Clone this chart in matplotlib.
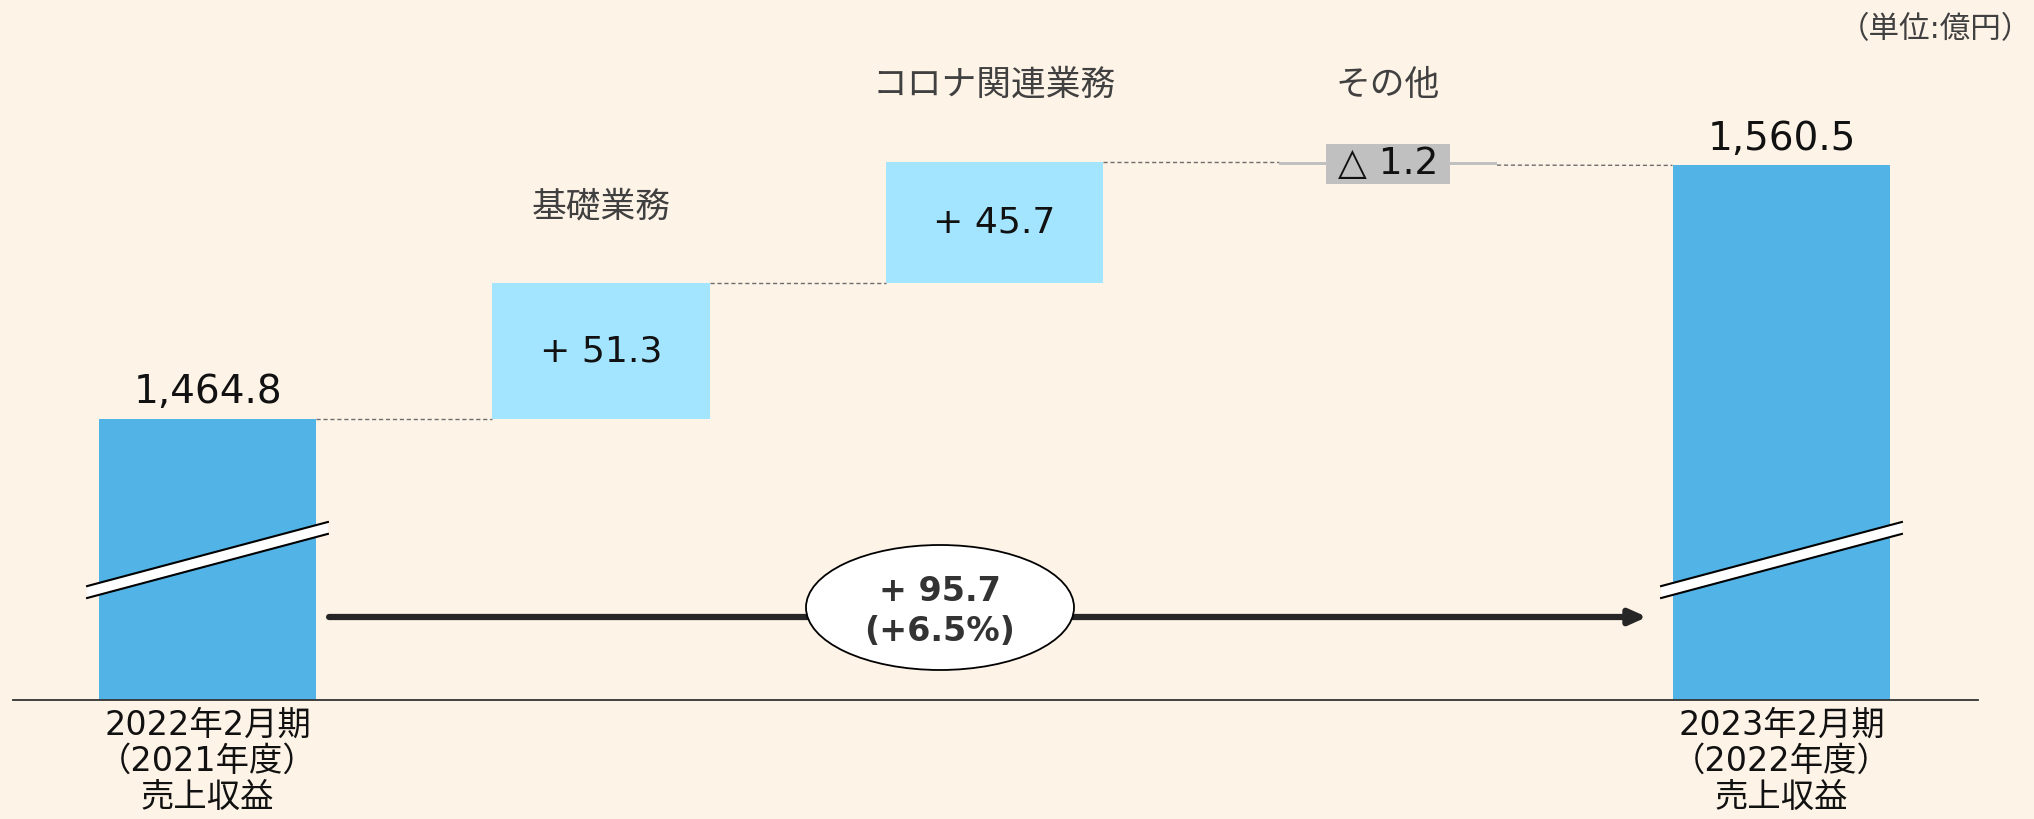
import numpy as np
import matplotlib.pyplot as plt
from matplotlib.patches import Ellipse, Polygon, Rectangle

# Latin glyphs from DejaVu (wide, Verdana-like), CJK from Noto
plt.rcParams["font.family"] = ["DejaVu Sans", "Noto Sans CJK JP"]

# ---- data ----
categories = ["2022年2月期\n（2021年度）\n売上収益", "基礎業務", "コロナ関連業務", "その他",
              "2023年2月期\n（2022年度）\n売上収益"]
start_total = 1464.8
changes = [51.3, 45.7, -1.2]
end_total = 1560.5
total_labels = ["1,464.8", "1,560.5"]
change_labels = ["+ 51.3", "+ 45.7", "△ 1.2"]
diff_label = "+ 95.7\n(+6.5%)"
unit_label = "（単位:億円）"

# ---- style ----
BG = "#FEF3E7"
TOTAL = "#52B4E6"
UP = "#A3E4FF"
DOWN = "#C0C0C0"
TEXT = "#111111"
SUB = "#404040"
ARROW = "#262626"

base = 1358.8          # broken-axis floor
bar_w = 0.554
px_x = 393.5           # pixels per category
px_y = 2.65            # pixels per unit

fig = plt.figure(figsize=(20.34, 8.19), dpi=100, facecolor=BG)
ax = fig.add_axes([0, 0, 1, 1])
ax.set_facecolor(BG)
ax.set_xlim(-207.5 / px_x, (2034 - 207.5) / px_x)
ax.set_ylim(start_total - 400 / px_y, start_total + 419 / px_y)
ax.axis("off")

x = np.arange(len(categories))

# cumulative levels
levels = [start_total]
for c in changes:
    levels.append(levels[-1] + c)

# totals
ax.bar([x[0], x[-1]], [start_total - base, end_total - base], bottom=base,
       width=bar_w, color=TOTAL, zorder=2)

# changes
for i, c in enumerate(changes):
    lo = min(levels[i], levels[i + 1])
    col = UP if c > 0 else DOWN
    ax.bar(x[i + 1], abs(c), bottom=lo, width=bar_w, color=col, zorder=2)

# connectors
conn = [(start_total, start_total), (levels[1], levels[1]), (levels[2], levels[2]),
        (levels[3], end_total)]
for i, (ya, yb) in enumerate(conn):
    ax.plot([x[i] + bar_w / 2, x[i + 1] - bar_w / 2], [ya, yb],
            color="#6E6E6E", lw=1.0, dashes=(3, 2), zorder=1)

# baseline
ax.plot([x[0] - 0.494, x[-1] + 0.5], [base, base], color="#333333", lw=1.3, zorder=3)

# total value labels
ax.text(x[0], start_total + 10, total_labels[0], fontsize=28, color=TEXT,
        ha="center", va="center", zorder=5)
ax.text(x[-1], end_total + 10, total_labels[1], fontsize=28, color=TEXT,
        ha="center", va="center", zorder=5)

# change labels
for i, c in enumerate(changes[:2]):
    mid = (levels[i] + levels[i + 1]) / 2
    ax.text(x[i + 1], mid, change_labels[i], fontsize=26, color=TEXT,
            ha="center", va="center", zorder=5)

# negative change: grey label box
mid = (levels[2] + levels[3]) / 2
ax.add_patch(Rectangle((x[3] - 0.1575, mid - 7.6), 0.315, 15.1,
                       facecolor=DOWN, edgecolor="none", zorder=4))
ax.text(x[3], mid, change_labels[2], fontsize=27, color=TEXT,
        ha="center", va="center", zorder=5)

# category titles above change bars
for i in range(1, 4):
    top = max(levels[i - 1], levels[i])
    ax.text(x[i], top + 29, categories[i], fontsize=25, color=SUB,
            ha="center", va="center", zorder=5)

# bottom labels for totals
for i in [0, -1]:
    ax.text(x[i], base - 3.5, categories[i], fontsize=24, color=TEXT,
            ha="center", va="top", linespacing=1.12, zorder=5)

# axis break marks
def draw_break(xc, yc):
    hx, hy, th = 0.306, 12.1, 4.5
    xs = np.array([xc - hx, xc + hx])
    ys = np.array([yc - hy, yc + hy])
    poly = Polygon([(xs[0], ys[0] - th / 2), (xs[1], ys[1] - th / 2),
                    (xs[1], ys[1] + th / 2), (xs[0], ys[0] + th / 2)],
                   closed=True, facecolor="white", edgecolor="none", zorder=6)
    ax.add_patch(poly)
    ax.plot(xs, ys + th / 2, color="black", lw=1.5, zorder=7)
    ax.plot(xs, ys - th / 2, color="black", lw=1.5, zorder=7)

break_y = start_total - 141 / px_y
draw_break(x[0], break_y)
draw_break(x[-1], break_y)

# overall change arrow
arrow_y = start_total - 198 / px_y
ax.annotate("", xy=(x[-1] - bar_w / 2 - 0.065, arrow_y),
            xytext=(x[0] + bar_w / 2 + 0.032, arrow_y),
            arrowprops=dict(arrowstyle="-|>,head_length=1.0,head_width=0.45",
                            lw=4.5, color=ARROW, shrinkA=0, shrinkB=0),
            zorder=3)

ell_x = 1.8615
ell_y = start_total - 188.5 / px_y
ax.add_patch(Ellipse((ell_x, ell_y), 268 / px_x, 125 / px_y, facecolor="white",
                     edgecolor="black", lw=1.3, zorder=8))
ax.text(ell_x, ell_y - 1.5, diff_label, fontsize=24, fontweight="bold", color="#333333",
        ha="center", va="center", linespacing=1.25, zorder=9)

# unit label
fig.text(2032 / 2034, 1 - 30 / 819, unit_label, fontsize=22, color=SUB,
         ha="right", va="center")

fig.savefig("out.png", dpi=100, facecolor=BG)
